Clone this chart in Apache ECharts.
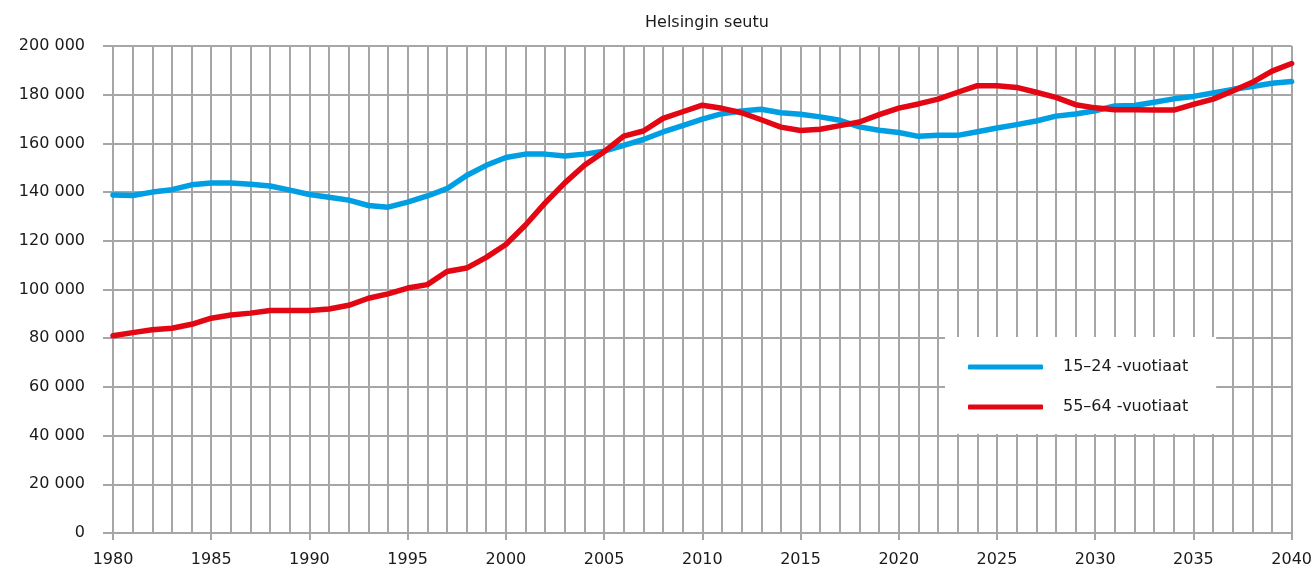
<!DOCTYPE html>
<html>
<head>
<meta charset="utf-8">
<title>Helsingin seutu</title>
<script src="https://cdn.jsdelivr.net/npm/echarts@6/dist/echarts.min.js"></script>
<style>
  html, body { margin: 0; padding: 0; background: #ffffff; }
  #chart { width: 1315px; height: 569px; }
</style>
</head>
<body>
<div id="chart"></div>
<script>
// Population of the Helsinki region by age group, 1980–2040
const years = [];
for (let y = 1980; y <= 2040; y++) years.push(y);

const seriesNames = ['15–24 -vuotiaat', '55–64 -vuotiaat'];

// 15–24-year-olds
const youth = [
  138800, 138600, 140000, 141000, 143000, 143700, 143700, 143200, 142500, 140800,
  139000, 137900, 136700, 134500, 133800, 135900, 138400, 141400, 146800, 151000,
  154200, 155600, 155600, 154800, 155600, 156800, 159200, 161600, 164700, 167300,
  170000, 172200, 173300, 174000, 172600, 172000, 170900, 169500, 166800, 165400,
  164500, 162900, 163300, 163300, 164800, 166300, 167700, 169200, 171200, 172100,
  173400, 175400, 175600, 176900, 178300, 179300, 180700, 182200, 183400, 184700,
  185400
];

// 55–64-year-olds
const older = [
  81000, 82300, 83500, 84100, 85700, 88200, 89500, 90300, 91400, 91400,
  91400, 92000, 93500, 96400, 98200, 100600, 102000, 107400, 108800, 113200,
  118500, 126500, 135600, 143800, 151000, 156600, 163000, 165100, 170300, 173000,
  175700, 174400, 172600, 169700, 166700, 165300, 165800, 167300, 168800, 171800,
  174500, 176200, 178200, 181000, 183700, 183700, 183000, 181000, 178900, 175900,
  174600, 173800, 173800, 173700, 173700, 176000, 178200, 181500, 185100, 189700,
  192800
];

const gridColor = '#a6a6a6';
const textColor = '#1a1a1a';
const fontFamily = '"DejaVu Sans", sans-serif';

function pairs(values) {
  return years.map((y, i) => [y, values[i]]);
}

function thousands(v) {
  return String(v).replace(/\B(?=(\d{3})+(?!\d))/g, ' ');
}

const chart = echarts.init(document.getElementById('chart'), null, { renderer: 'canvas' });

chart.setOption({
  backgroundColor: '#ffffff',
  animation: false,
  title: {
    text: 'Helsingin seutu',
    left: 640,
    top: 10,
    textStyle: { fontFamily, fontSize: 16, fontWeight: 'normal', color: textColor }
  },
  grid: { left: 113, right: 15, top: 46, bottom: 36, containLabel: false },
  legend: {
    left: 945,
    top: 337,
    orient: 'vertical',
    backgroundColor: '#ffffff',
    padding: [20, 28, 17, 23],
    itemGap: 20,
    itemWidth: 75,
    itemHeight: 5,
    icon: 'roundRect',
    textStyle: { fontFamily, fontSize: 16, color: textColor, lineHeight: 20, padding: [0, 0, 0, 15] },
    data: seriesNames
  },
  xAxis: {
    type: 'value',
    min: 1980,
    max: 2040,
    interval: 5,
    axisLine: { show: true, lineStyle: { color: gridColor, width: 2 } },
    axisTick: { show: true, length: 7, lineStyle: { color: gridColor, width: 2 } },
    minorTick: { show: false, splitNumber: 5 },
    splitLine: { show: true, lineStyle: { color: gridColor, width: 2 } },
    minorSplitLine: { show: true, lineStyle: { color: gridColor, width: 2 } },
    axisLabel: {
      margin: 19,
      fontFamily, fontSize: 16, color: textColor,
      formatter: v => String(v)
    }
  },
  yAxis: {
    type: 'value',
    min: 0,
    max: 200000,
    interval: 20000,
    axisLine: { show: true, lineStyle: { color: gridColor, width: 2 } },
    axisTick: { show: true, length: 10, lineStyle: { color: gridColor, width: 2 } },
    splitLine: { show: true, lineStyle: { color: gridColor, width: 2 } },
    axisLabel: {
      margin: 28,
      fontFamily, fontSize: 16, color: textColor,
      formatter: v => thousands(v)
    }
  },
  series: [
    {
      name: seriesNames[0],
      type: 'line',
      data: pairs(youth),
      symbol: 'none',
      lineStyle: { color: '#009fe3', width: 5.5, cap: 'round', join: 'round' },
      itemStyle: { color: '#009fe3' },
      z: 3
    },
    {
      name: seriesNames[1],
      type: 'line',
      data: pairs(older),
      symbol: 'none',
      lineStyle: { color: '#e30613', width: 5.5, cap: 'round', join: 'round' },
      itemStyle: { color: '#e30613' },
      z: 4
    }
  ]
});
</script>
</body>
</html>
